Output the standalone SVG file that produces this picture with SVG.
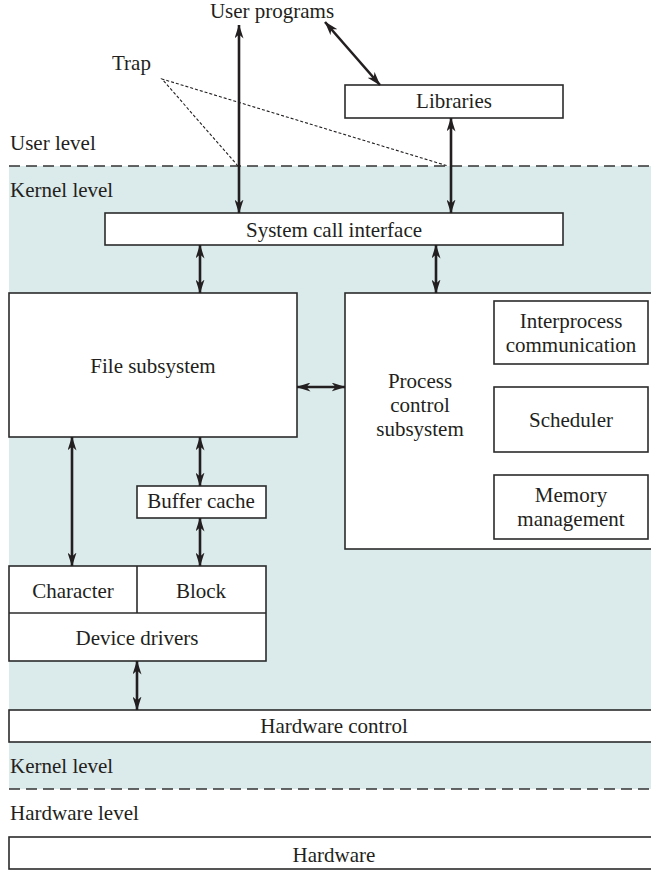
<svg xmlns="http://www.w3.org/2000/svg" width="651" height="870" viewBox="0 0 651 870">
<style>
text{font-family:"Liberation Serif","Times New Roman",serif;font-size:21px;fill:#231f20}
.c{text-anchor:middle}
.box{fill:#fff;stroke:#2b2b2b;stroke-width:1.6}
.arr{stroke:#231f20;stroke-width:2.6;fill:none;marker-start:url(#ah);marker-end:url(#ah)}
.lvl{stroke:#333;stroke-width:1.5;stroke-dasharray:11,6;fill:none}
.trap{stroke:#231f20;stroke-width:1.1;stroke-dasharray:3,2;fill:none}
</style>
<defs>
<marker id="ah" viewBox="0 0 14 9" refX="13.5" refY="4.5" markerWidth="14" markerHeight="9" markerUnits="userSpaceOnUse" orient="auto-start-reverse">
<path d="M0,0 L14,4.5 L0,9 L4,4.5 z" fill="#231f20"/>
</marker>
</defs>
<rect x="9" y="166" width="642" height="623" fill="#dbeaea"/>
<g id="levels">
<line class="lvl" x1="9" y1="166" x2="651" y2="166"/>
<line class="lvl" x1="9" y1="789" x2="651" y2="789"/>
<text x="10" y="150">User level</text>
<text x="10" y="197">Kernel level</text>
<text x="10" y="773">Kernel level</text>
<text x="10" y="820">Hardware level</text>
</g>
<g id="user-programs"><text class="c" x="272" y="18">User programs</text></g>
<g id="trap">
<text x="112" y="70">Trap</text>
<polyline class="trap" points="238,166 162,79 448,166"/>
</g>
<g id="libraries"><rect class="box" x="345" y="85" width="218" height="33"/><text class="c" x="454" y="108">Libraries</text></g>
<g id="syscall"><rect class="box" x="105" y="213" width="458" height="32"/><text class="c" x="334" y="237">System call interface</text></g>
<g id="file-subsystem"><rect class="box" x="9" y="293" width="288" height="144"/><text class="c" x="153" y="373">File subsystem</text></g>
<g id="process-control">
<rect class="box" x="345" y="293" width="330" height="256"/>
<text class="c" x="420" y="388">Process</text>
<text class="c" x="420" y="412">control</text>
<text class="c" x="420" y="436">subsystem</text>
</g>
<g id="ipc"><rect class="box" x="494" y="301" width="154" height="63"/><text class="c" x="571" y="328">Interprocess</text><text class="c" x="571" y="352">communication</text></g>
<g id="scheduler"><rect class="box" x="494" y="387" width="154" height="65"/><text class="c" x="571" y="427">Scheduler</text></g>
<g id="memory"><rect class="box" x="494" y="475" width="154" height="64"/><text class="c" x="571" y="502">Memory</text><text class="c" x="571" y="526">management</text></g>
<g id="buffer-cache"><rect class="box" x="137" y="486" width="129" height="32"/><text class="c" x="201" y="508">Buffer cache</text></g>
<g id="device-drivers">
<rect class="box" x="9" y="566" width="257" height="95"/>
<line x1="9" y1="613" x2="266" y2="613" stroke="#2b2b2b" stroke-width="1.6"/>
<line x1="137" y1="566" x2="137" y2="613" stroke="#2b2b2b" stroke-width="1.6"/>
<text class="c" x="73" y="598">Character</text>
<text class="c" x="201" y="598">Block</text>
<text class="c" x="137" y="645">Device drivers</text>
</g>
<g id="hardware-control"><rect class="box" x="9" y="710" width="660" height="32"/><text class="c" x="334" y="733">Hardware control</text></g>
<g id="hardware"><rect class="box" x="9" y="837" width="660" height="32"/><text class="c" x="334" y="862">Hardware</text></g>
<g id="connectors">
<line class="arr" x1="239" y1="25" x2="239" y2="213"/>
<line class="arr" x1="325" y1="22" x2="380" y2="85"/>
<line class="arr" x1="451" y1="118" x2="451" y2="213"/>
<line class="arr" x1="200" y1="245" x2="200" y2="293"/>
<line class="arr" x1="436" y1="245" x2="436" y2="293"/>
<line class="arr" x1="297" y1="387" x2="345" y2="387"/>
<line class="arr" x1="72" y1="437" x2="72" y2="566"/>
<line class="arr" x1="200" y1="437" x2="200" y2="486"/>
<line class="arr" x1="200" y1="518" x2="200" y2="566"/>
<line class="arr" x1="137" y1="661" x2="137" y2="710"/>
</g>
</svg>
